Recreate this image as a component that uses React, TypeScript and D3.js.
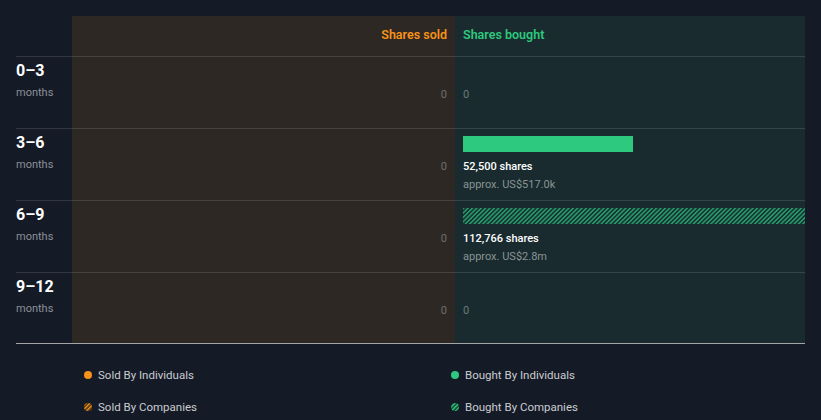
import React from "react";
import * as d3 from "d3";

const periods = ["0–3", "3–6", "6–9", "9–12"];
const soldIndividuals = [0, 0, 0, 0];
const soldCompanies = [0, 0, 0, 0];
const boughtIndividuals = [0, 52500, 0, 0];
const boughtCompanies = [0, 0, 112766, 0];
const boughtValueLabels = ["", "US$517.0k", "US$2.8m", ""];
const axisMax = 105600;
const legendItems = ["Sold By Individuals", "Bought By Individuals", "Sold By Companies", "Bought By Companies"];

const W = 821, H = 420;
const BG = "#151b26";
const SOLD_BG = "#2d2823";
const BOUGHT_BG = "#192b2f";
const ORANGE = "#f7931a";
const GREEN = "#2dc97e";
const FONT = "Roboto, 'Open Sans', sans-serif";

export default function App() {
  const left = 16, right = 805, midX = 455, soldX0 = 72;
  const top = 16, headerBottom = 56, bottom = 343;
  const y = d3.scaleBand<string>().domain(periods).range([headerBottom, 344]).paddingInner(0).paddingOuter(0);
  const x = d3.scaleLinear().domain([0, axisMax]).range([midX + 8, right]).clamp(true);
  const fmt = d3.format(",");

  return (
    <svg width={W} height={H} style={{ position: "absolute", left: 0, top: 0, background: BG }}>
      <defs>
        <pattern id="hatchG" patternUnits="userSpaceOnUse" width="3.1" height="3.1" patternTransform="rotate(45)">
          <rect width="3.1" height="3.1" fill="#183332" />
          <rect width="1.4" height="3.1" fill="#27a370" />
        </pattern>
        <pattern id="hatchO" patternUnits="userSpaceOnUse" width="3" height="3" patternTransform="rotate(45)">
          <rect width="3" height="3" fill="#3a2a15" />
          <rect width="1.5" height="3" fill={ORANGE} />
        </pattern>
        <pattern id="hatchGs" patternUnits="userSpaceOnUse" width="3" height="3" patternTransform="rotate(45)">
          <rect width="3" height="3" fill="#173a2c" />
          <rect width="1.5" height="3" fill={GREEN} />
        </pattern>
      </defs>
      <rect x={0} y={0} width={W} height={H} fill={BG} />
      <rect x={soldX0} y={top} width={midX - soldX0} height={bottom - top} fill={SOLD_BG} />
      <rect x={midX} y={top} width={right - midX} height={bottom - top} fill={BOUGHT_BG} />

      <text x={447} y={39} textAnchor="end" fill={ORANGE} fontFamily={FONT} fontSize={12.5} fontWeight={600}>Shares sold</text>
      <text x={463} y={39} fill={GREEN} fontFamily={FONT} fontSize={12.5} fontWeight={600}>Shares bought</text>

      {periods.map((p, i) => {
        const y0 = y(p)!;
        return (
          <line key={"l" + i} x1={left} x2={right} y1={y0 + 0.5} y2={y0 + 0.5} stroke="#ffffff" strokeOpacity={0.12} />
        );
      })}
      <line x1={left} x2={right} y1={bottom + 0.5} y2={bottom + 0.5} stroke="#c8c8c8" strokeOpacity={0.8} />

      {periods.map((p, i) => {
        const y0 = y(p)!;
        const bi = boughtIndividuals[i];
        const bc = boughtCompanies[i];
        const total = bi + bc;
        const soldTotal = soldIndividuals[i] + soldCompanies[i];
        return (
          <g key={p}>
            <text x={16} y={y0 + 20} fill="#ffffff" fontFamily={FONT} fontSize={16} fontWeight={700}>{p}</text>
            <text x={16} y={y0 + 40} fill="#8a8f98" fontFamily={FONT} fontSize={11}>months</text>
            <text x={447} y={y0 + 42} textAnchor="end" fill="#6b6f74" fontFamily={FONT} fontSize={11}>{fmt(soldTotal)}</text>
            {total === 0 ? (
              <text x={463} y={y0 + 42} fill="#6b7a7a" fontFamily={FONT} fontSize={11}>0</text>
            ) : (
              <g>
                {bi > 0 && <rect x={x(0)} y={y0 + 8} width={x(bi) - x(0)} height={16} fill={GREEN} />}
                {bc > 0 && <rect x={x(bi)} y={y0 + 8} width={x(bi + bc) - x(bi)} height={16} fill="url(#hatchG)" />}
                <text x={463} y={y0 + 42} fill="#ffffff" fontFamily={FONT} fontSize={11} fontWeight={500}>{fmt(total)} shares</text>
                <text x={463} y={y0 + 60} fill="#8a9494" fontFamily={FONT} fontSize={11}>approx. {boughtValueLabels[i]}</text>
              </g>
            )}
          </g>
        );
      })}

      {legendItems.map((name, i) => {
        const col = i % 2;
        const row = Math.floor(i / 2);
        const cx = col === 0 ? 88 : 455;
        const cy = 375 + row * 32;
        const isSold = name.startsWith("Sold");
        const isCompany = name.includes("Companies");
        const fill = isCompany ? (isSold ? "url(#hatchO)" : "url(#hatchGs)") : isSold ? ORANGE : GREEN;
        return (
          <g key={name}>
            <circle cx={cx} cy={cy} r={4} fill={fill} />
            <text x={cx + 10} y={cy + 4} fill="#c9ccd1" fontFamily={FONT} fontSize={11.5}>{name}</text>
          </g>
        );
      })}
    </svg>
  );
}
